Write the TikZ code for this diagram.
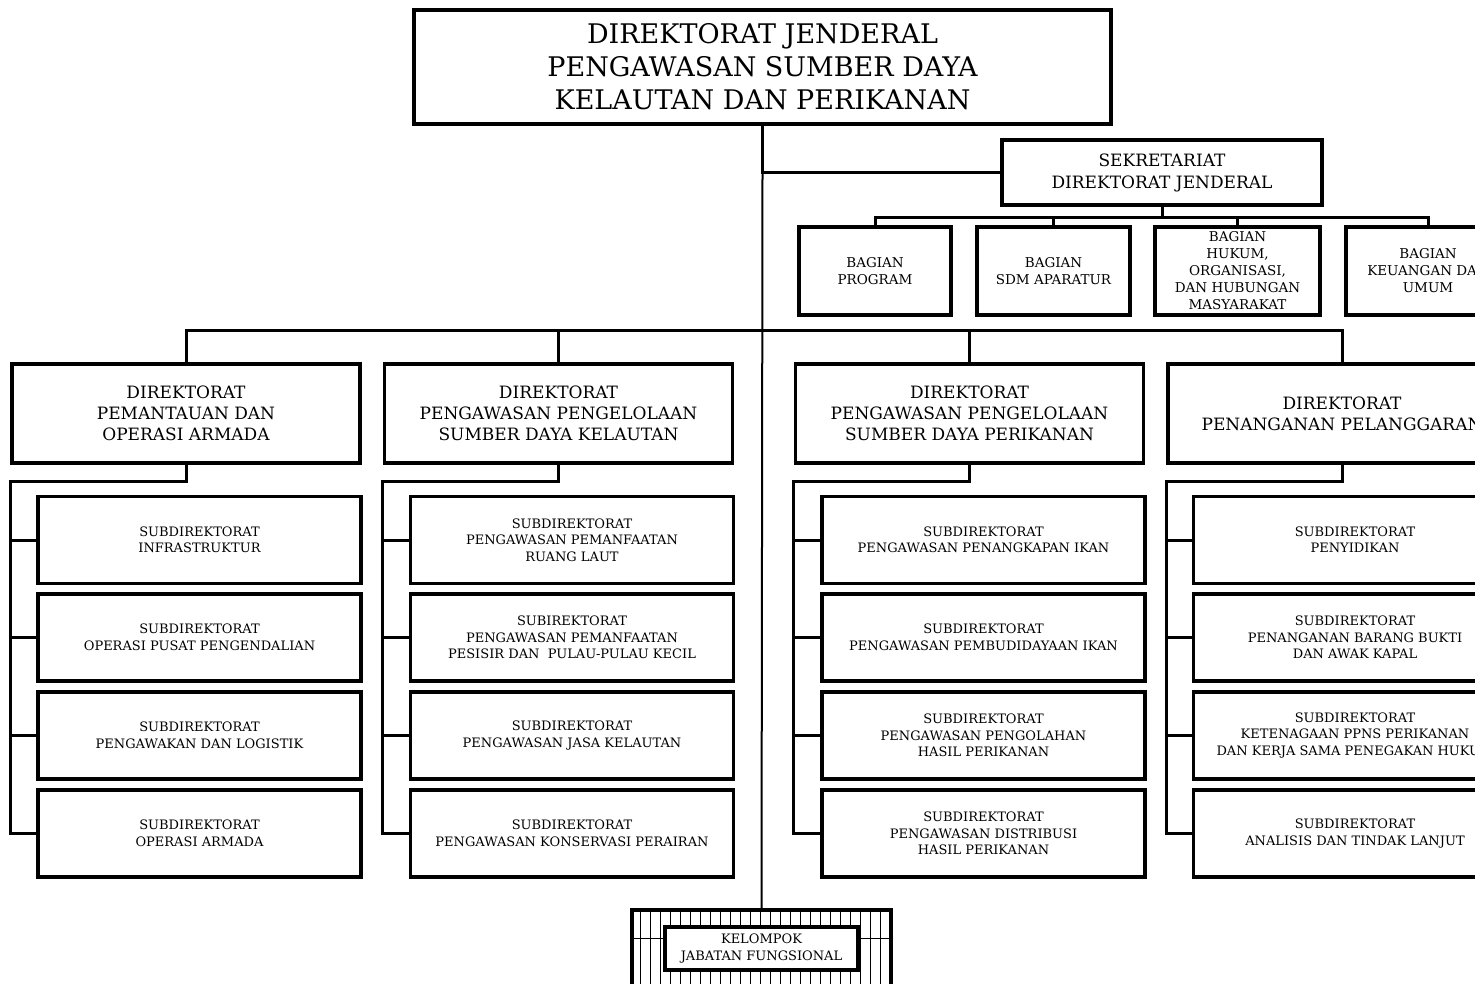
\documentclass[tikz,border=0pt]{standalone}
\usepackage{fontspec}
\setmainfont{DejaVu Serif}
\usetikzlibrary{calc}

\begin{document}
\begin{tikzpicture}[
  x=1pt, y=-1pt,
  box/.style={draw, line width=3.5pt, align=center, inner sep=0pt, fill=white},
  dirbox/.style={box, minimum width=348pt, minimum height=99pt,
    font=\fontsize{17}{21}\selectfont},
  bagbox/.style={box, minimum height=88pt, font=\fontsize{13.5}{17}\selectfont},
  subbox/.style={box, minimum width=323pt, minimum height=87pt,
    font=\fontsize{13}{16.5}\selectfont},
  conn/.style={line width=3pt},
  thinconn/.style={line width=2pt},
  hatch/.style={line width=1pt},
  ]
  % page frame (the chart runs off the right edge)
  \useasboundingbox (0,0) rectangle (1475,984);
  \clip (0,0) rectangle (1475,984);

  % Direktur Jenderal and Sekretariat
  \node[box, minimum width=697pt, minimum height=114pt,
    font=\fontsize{27}{33}\selectfont] (top) at (762.5,67)
    {DIREKTORAT JENDERAL\\PENGAWASAN SUMBER DAYA\\KELAUTAN DAN PERIKANAN};
  \node[box, minimum width=320pt, minimum height=65pt,
    font=\fontsize{17}{22}\selectfont] (sek) at (1162,172.5)
    {SEKRETARIAT\\DIREKTORAT JENDERAL};

  % Bagian
  \node[bagbox, minimum width=152pt] (b1) at (875,271) {BAGIAN\\PROGRAM};
  \node[bagbox, minimum width=153pt] (b2) at (1053.5,271) {BAGIAN\\SDM APARATUR};
  \node[bagbox, minimum width=165pt] (b3) at (1237.5,271)
    {BAGIAN\\HUKUM,\\ORGANISASI,\\DAN HUBUNGAN\\MASYARAKAT};
  \node[bagbox, minimum width=164pt] (b4) at (1428,271)
    {BAGIAN\\KEUANGAN DAN\\UMUM};

  % Direktorat
  \node[dirbox] (d1) at (186,413.5)
    {DIREKTORAT\\PEMANTAUAN DAN\\OPERASI ARMADA};
  \node[dirbox] (d2) at (558.5,413.5)
    {DIREKTORAT\\PENGAWASAN PENGELOLAAN\\SUMBER DAYA KELAUTAN};
  \node[dirbox] (d3) at (969.5,413.5)
    {DIREKTORAT\\PENGAWASAN PENGELOLAAN\\SUMBER DAYA PERIKANAN};
  \node[dirbox] (d4) at (1342,413.5)
    {DIREKTORAT\\PENANGANAN PELANGGARAN};

  % Subdirektorat, column 1
  \node[subbox] (s11) at (199.5,540) {SUBDIREKTORAT\\INFRASTRUKTUR};
  \node[subbox] (s12) at (199.5,637.5) {SUBDIREKTORAT\\OPERASI PUSAT PENGENDALIAN};
  \node[subbox] (s13) at (199.5,735.5) {SUBDIREKTORAT\\PENGAWAKAN DAN LOGISTIK};
  \node[subbox] (s14) at (199.5,833.5) {SUBDIREKTORAT\\OPERASI ARMADA};
  % column 2
  \node[subbox] (s21) at (572,540)
    {SUBDIREKTORAT\\PENGAWASAN PEMANFAATAN\\RUANG LAUT};
  \node[subbox] (s22) at (572,637.5)
    {SUBIREKTORAT\\PENGAWASAN PEMANFAATAN\\PESISIR DAN\ \ PULAU-PULAU KECIL};
  \node[subbox] (s23) at (572,735.5) {SUBDIREKTORAT\\PENGAWASAN JASA KELAUTAN};
  \node[subbox] (s24) at (572,833.5)
    {SUBDIREKTORAT\\PENGAWASAN KONSERVASI PERAIRAN};
  % column 3
  \node[subbox] (s31) at (983.5,540)
    {SUBDIREKTORAT\\PENGAWASAN PENANGKAPAN IKAN};
  \node[subbox] (s32) at (983.5,637.5)
    {SUBDIREKTORAT\\PENGAWASAN PEMBUDIDAYAAN IKAN};
  \node[subbox] (s33) at (983.5,735.5)
    {SUBDIREKTORAT\\PENGAWASAN PENGOLAHAN\\HASIL PERIKANAN};
  \node[subbox] (s34) at (983.5,833.5)
    {SUBDIREKTORAT\\PENGAWASAN DISTRIBUSI\\HASIL PERIKANAN};
  % column 4
  \node[subbox] (s41) at (1355,540) {SUBDIREKTORAT\\PENYIDIKAN};
  \node[subbox] (s42) at (1355,637.5)
    {SUBDIREKTORAT\\PENANGANAN BARANG BUKTI\\DAN AWAK KAPAL};
  \node[subbox] (s43) at (1355,735.5)
    {SUBDIREKTORAT\\KETENAGAAN PPNS PERIKANAN\\DAN KERJA SAMA PENEGAKAN HUKUM};
  \node[subbox] (s44) at (1355,833.5)
    {SUBDIREKTORAT\\ANALISIS DAN TINDAK LANJUT};

  % Kelompok jabatan fungsional (hatched frame)
  \node[draw, line width=3.5pt, minimum width=259pt, minimum height=77pt,
    inner sep=0pt] (kel) at (761.5,948.5) {};
  \foreach \i in {1,...,25}
    \draw[hatch] ([xshift=\i*10pt]kel.north west) -- ([xshift=\i*10pt]kel.south west);
  \node[box, minimum width=193pt, minimum height=43pt,
    font=\fontsize{13}{17}\selectfont] (jf) at (kel.center)
    {KELOMPOK\\JABATAN FUNGSIONAL};
  \draw[hatch] ([yshift=10.5pt]kel.west) -- ([yshift=10.5pt]jf.west);
  \draw[hatch] ([yshift=10.5pt]kel.east) -- ([yshift=10.5pt]jf.east);

  % main stem
  \coordinate (stem) at (top.south |- sek.west);
  \draw[conn] (top.south) -- (stem) -- (sek.west);
  \draw[thinconn] (stem) -- (kel.north);

  % sekretariat to bagian
  \coordinate (sekbus) at ($(sek.south)+(0,11)$);
  \foreach \b in {b1,b2,b3,b4}
    \draw[conn] (sek.south) -- (sekbus) -| (\b.north);

  % direktorat bus
  \draw[conn] (d1.north) -- ++(0,-32) -| (d4.north);
  \draw[conn] (d2.north) -- ++(0,-32);
  \draw[conn] (d3.north) -- ++(0,-32);

  % direktorat to subdirektorat
  \foreach \c in {1,2,3,4} {
    \draw[conn] (d\c.south) -- ++(0,17) -| (d\c.west |- s\c4.west) -- (s\c4.west);
    \foreach \r in {1,2,3}
      \draw[conn] (d\c.west |- s\c\r.west) -- (s\c\r.west);
  }
\end{tikzpicture}
\end{document}
